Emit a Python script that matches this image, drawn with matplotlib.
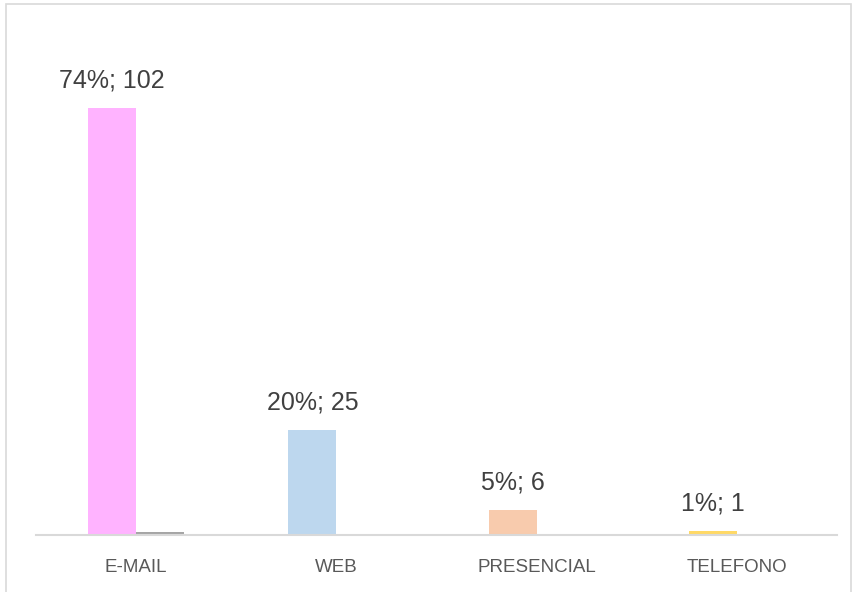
import matplotlib.pyplot as plt
from matplotlib.patches import Rectangle

# data
canales = ['E-MAIL', 'WEB', 'PRESENCIAL', 'TELEFONO']
cantidad = [102, 25, 6, 1]
porcentaje = [0.74, 0.20, 0.05, 0.01]
etiquetas = ['74%; 102', '20%; 25', '5%; 6', '1%; 1']
colores = ['#FFB3FF', '#BDD7EE', '#F8CBAD', '#FFD966']

plt.rcParams['font.family'] = ['Liberation Sans', 'DejaVu Sans']

fig = plt.figure(figsize=(8.54, 5.92), dpi=100)
ax = fig.add_axes([36 / 854, 57 / 592, 801 / 854, 502 / 592])

w = 0.24
x = list(range(len(canales)))
ax.bar([i - w / 2 for i in x], cantidad, width=w, color=colores, zorder=2)
ax.bar([i + w / 2 for i in x], porcentaje, width=w, color='#A5A5A5', zorder=2)

for i, (v, t) in enumerate(zip(cantidad, etiquetas)):
    ax.annotate(t, (i - w / 2, v), xytext=(0, 20), textcoords='offset points',
                ha='center', va='center', fontsize=18, color='#404040')

ax.set_xlim(-0.5, len(canales) - 0.5)
ax.set_ylim(0, 120)
ax.set_xticks(x)
ax.set_xticklabels(canales, fontsize=13.5, color='#595959')
ax.tick_params(axis='x', length=0, pad=17)
ax.set_yticks([])
for s in ['top', 'right', 'left']:
    ax.spines[s].set_visible(False)
ax.spines['bottom'].set_color('#D9D9D9')
ax.spines['bottom'].set_linewidth(1.5)

# chart area border
fig.patches.append(Rectangle((6 / 854, -0.05), 845 / 854, 1.05 - 4 / 592,
                             transform=fig.transFigure, fill=False,
                             edgecolor='#D9D9D9', linewidth=1.2))

fig.savefig('out.png', dpi=100)
